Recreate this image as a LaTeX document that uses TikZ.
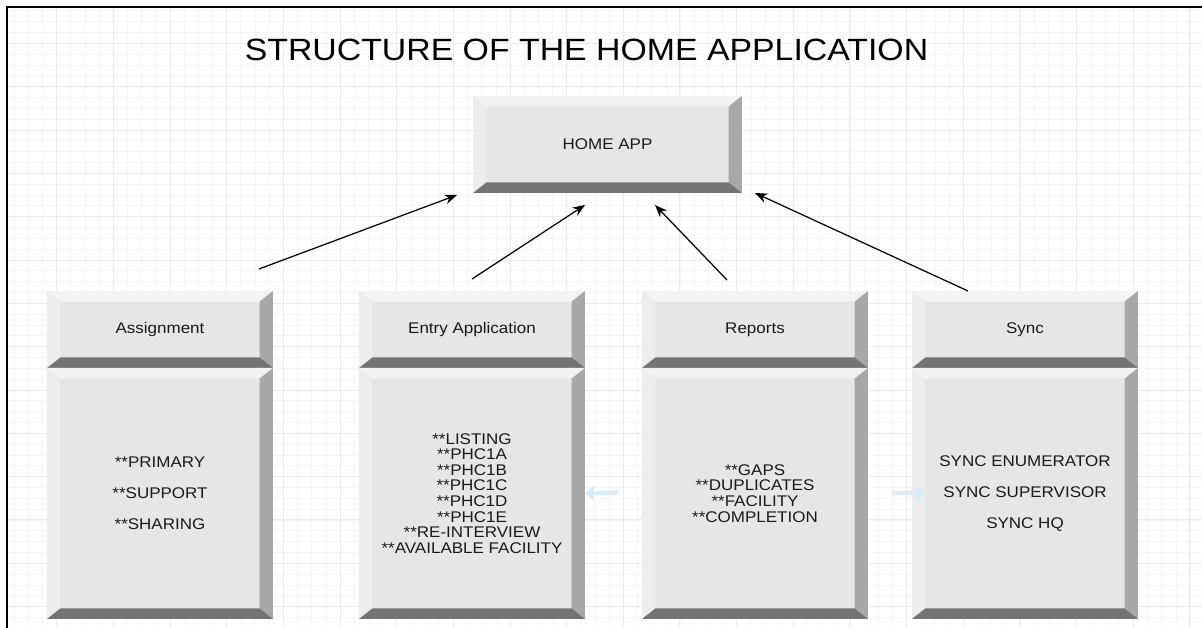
\documentclass[tikz,border=0pt]{standalone}
\usepackage{fontspec}
\setmainfont{Liberation Sans}[FakeStretch=1.1]
\usetikzlibrary{positioning,arrows.meta}
\definecolor{bevface}{RGB}{230,230,230}
\definecolor{bevtop}{RGB}{243,243,243}
\definecolor{bevleft}{RGB}{237,237,237}
\definecolor{bevright}{RGB}{168,168,168}
\definecolor{bevbottom}{RGB}{116,116,116}
\definecolor{gridminor}{RGB}{246,246,246}
\definecolor{gridmajor}{RGB}{236,236,236}
\definecolor{paleblue}{RGB}{214,236,250}
\newlength{\bevw}\setlength{\bevw}{7.6pt}
\newlength{\bevh}\setlength{\bevh}{6pt}
\tikzset{
  bevel/.style={rectangle, fill=bevface, inner sep=0pt, outer sep=0pt, align=center,
    font=\fontsize{8.8}{8.9}\selectfont, text=black!90,
    path picture={
      \fill[bevtop] (path picture bounding box.north west) -- (path picture bounding box.north east)
        -- ([xshift=-\bevw,yshift=-\bevh]path picture bounding box.north east)
        -- ([xshift=\bevw,yshift=-\bevh]path picture bounding box.north west) -- cycle;
      \fill[bevleft] (path picture bounding box.north west) -- (path picture bounding box.south west)
        -- ([xshift=\bevw,yshift=\bevh]path picture bounding box.south west)
        -- ([xshift=\bevw,yshift=-\bevh]path picture bounding box.north west) -- cycle;
      \fill[bevright] (path picture bounding box.north east) -- (path picture bounding box.south east)
        -- ([xshift=-\bevw,yshift=\bevh]path picture bounding box.south east)
        -- ([xshift=-\bevw,yshift=-\bevh]path picture bounding box.north east) -- cycle;
      \fill[bevbottom] (path picture bounding box.south west) -- (path picture bounding box.south east)
        -- ([xshift=-\bevw,yshift=\bevh]path picture bounding box.south east)
        -- ([xshift=\bevw,yshift=\bevh]path picture bounding box.south west) -- cycle;
    }},
  headbox/.style={bevel, minimum width=4.52cm, minimum height=1.54cm},
  bodybox/.style={bevel, minimum width=4.52cm, minimum height=5.02cm},
  link/.style={-{Stealth[length=7pt,width=5.5pt]}, line width=0.7pt},
  hint/.style={-{Triangle[length=5pt,width=8pt]}, line width=2.4pt, paleblue}
}
\begin{document}
\begin{tikzpicture}[x=0.02cm, y=-0.02cm]
  \useasboundingbox (0,0) rectangle (1202,628);
  \fill[white] (0,0) rectangle (1202,628);
  \draw[gridminor, line width=0.4pt, xstep=0.2834cm, ystep=0.2167cm] (6.7,6.7) grid (1202,628);
  \draw[gridmajor, line width=0.5pt, xstep=1.1334cm, ystep=0.8667cm] (6.7,6.7) grid (1202,628);
  \draw[line width=1.1pt] (6.7,628) -- (6.7,6.7) -- (1202,6.7);

  \node[font=\fontsize{17.5}{20}\selectfont] (title) at (586.5,50) {STRUCTURE OF THE HOME APPLICATION};

  \node[bevel, minimum width=5.38cm, minimum height=1.94cm] (home) at (607.5,144.5) {HOME APP};

  \node[headbox] (assignhead) at (160,329.5) {Assignment};
  \node[bodybox, below=0pt of assignhead] (assignbody) {**PRIMARY\\[8.7pt]**SUPPORT\\[8.7pt]**SHARING};

  \node[headbox] (entryhead) at (472,329.5) {Entry Application};
  \node[bodybox, below=0pt of entryhead] (entrybody) {**LISTING\\**PHC1A\\**PHC1B\\**PHC1C\\**PHC1D\\**PHC1E\\**RE-INTERVIEW\\**AVAILABLE FACILITY};

  \node[headbox] (reporthead) at (755,329.5) {Reports};
  \node[bodybox, below=0pt of reporthead] (reportbody) {**GAPS\\**DUPLICATES\\**FACILITY\\**COMPLETION};

  \node[headbox] (synchead) at (1025,329.5) {Sync};
  \node[bodybox, below=0pt of synchead] (syncbody) {SYNC ENUMERATOR\\[8.7pt]SYNC SUPERVISOR\\[8.7pt]SYNC HQ};

  \coordinate (a1) at (259,269);
  \coordinate (h1) at (457,195);
  \coordinate (a2) at (472,279);
  \coordinate (h2) at (585,205);
  \coordinate (a3) at (727,280);
  \coordinate (h3) at (655,205);
  \coordinate (a4) at (968,291);
  \coordinate (h4) at (755,193);
  \draw[link] (a1) -- (h1);
  \draw[link] (a2) -- (h2);
  \draw[link] (a3) -- (h3);
  \draw[link] (a4) -- (h4);

  \coordinate (b1) at (618,492.5);
  \coordinate (b2) at (892,492.5);
  \draw[hint] (b1) -- (entrybody.east);
  \draw[hint] (b2) -- ([xshift=7.4pt]syncbody.west);
\end{tikzpicture}
\end{document}
